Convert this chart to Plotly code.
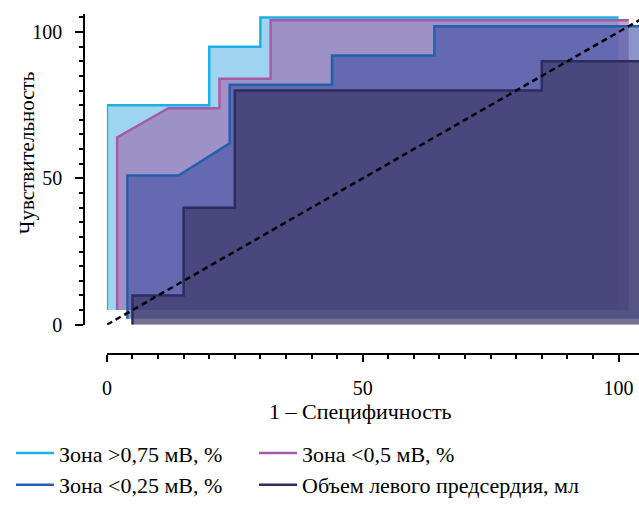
import plotly.graph_objects as go

# ---- data ----
series_names = ["Зона >0,75 мВ, %", "Зона <0,5 мВ, %",
                "Зона <0,25 мВ, %", "Объем левого предсердия, мл"]

fpr_s1 = [0, 0, 20, 20, 30, 30, 100]
sens_s1 = [5, 75, 75, 95, 95, 105, 105]
base_s1 = 5

fpr_s2 = [2, 2, 12, 22, 22, 32, 32, 102]
sens_s2 = [5, 64, 74, 74, 84, 84, 104, 104]
base_s2 = 5

fpr_s3 = [4, 4, 14, 24, 24, 44, 44, 64, 64, 106]
sens_s3 = [2, 51, 51, 62, 82, 82, 92, 92, 102, 102]
base_s3 = 2

fpr_s4 = [5, 5, 15, 15, 25, 25, 85, 85, 106]
sens_s4 = [0, 10, 10, 40, 40, 80, 80, 90, 90]
base_s4 = 0

ref_x = [0, 106]
ref_y = [0, 106]

x_tickvals = [0, 50, 100]
y_tickvals = [0, 50, 100]

x_title = "1 – Специфичность"
y_title = "Чувствительность"

# ---- styles ----
line_colors = ["#1cb0e3", "#a65ba8", "#2160ae", "#2c2c5e"]
fill_colors = ["rgba(100,185,230,0.62)", "rgba(159,100,168,0.6)",
               "rgba(64,78,163,0.6)", "rgba(62,58,105,0.72)"]
FONT = "Liberation Serif"
W, H = 639, 506

fig = go.Figure()

all_series = [(fpr_s1, sens_s1, base_s1), (fpr_s2, sens_s2, base_s2),
              (fpr_s3, sens_s3, base_s3), (fpr_s4, sens_s4, base_s4)]
legend_ids = ["legend", "legend2", "legend3", "legend4"]

for i, (xs, ys, base) in enumerate(all_series):
    fig.add_trace(go.Scatter(
        x=xs + [xs[-1]], y=ys + [base], mode="lines", fill="toself",
        fillcolor=fill_colors[i], line=dict(width=0), hoverinfo="skip",
        showlegend=False))
    fig.add_trace(go.Scatter(
        x=xs, y=ys, mode="lines", name=series_names[i],
        line=dict(color=line_colors[i], width=2.5),
        legend=legend_ids[i]))

fig.add_trace(go.Scatter(x=ref_x, y=ref_y, mode="lines", showlegend=False,
                         line=dict(color="black", width=2.5, dash="6px,4px")))

axis_common = dict(showline=True, linecolor="black", linewidth=2,
                   ticks="outside", tickcolor="black", tickwidth=2,
                   showgrid=False, zeroline=False,
                   tickfont=dict(family=FONT, size=20, color="black"))


def leg(xpx, ypx):
    return dict(orientation="v", x=xpx / W, xanchor="left", y=1 - ypx / H,
                yanchor="middle", itemwidth=38,
                font=dict(family=FONT, size=22, color="black"),
                bgcolor="rgba(0,0,0,0)", itemclick=False,
                itemdoubleclick=False)


fig.update_layout(
    width=W, height=H,
    margin=dict(l=0, r=0, t=0, b=0),
    paper_bgcolor="white", plot_bgcolor="white",
    font=dict(family=FONT, size=20, color="black"),
    xaxis=dict(domain=[102.7 / W, 1.0], range=[0, 104], anchor="free",
               position=1 - 367 / H, tickvals=x_tickvals, ticklen=7,
               ticklabelstandoff=9,
               minor=dict(dtick=5, tick0=0, ticks="outside", ticklen=4,
                          tickwidth=2, tickcolor="black"),
               **axis_common),
    yaxis=dict(domain=[1 - 336.7 / H, 1 - 15 / H], range=[0, 106],
               anchor="free", position=80 / W, tickvals=y_tickvals,
               ticklen=8, ticklabelstandoff=9,
               minor=dict(dtick=5, tick0=0, ticks="outside", ticklen=4,
                          tickwidth=2, tickcolor="black"),
               **axis_common),
    legend=leg(6, 470),
    legend2=leg(251, 470),
    legend3=leg(6, 503),
    legend4=leg(251, 503),
    annotations=[
        dict(text=x_title, x=358 / W, y=1 - 427 / H, xref="paper",
             yref="paper", showarrow=False, xanchor="center",
             yanchor="middle", font=dict(family=FONT, size=22)),
        dict(text=y_title, x=23 / W, y=1 - 159 / H, xref="paper",
             yref="paper", showarrow=False, xanchor="center",
             yanchor="middle", textangle=-90, font=dict(family=FONT, size=21)),
    ],
)

fig.write_html(
    "out.html",
    config={"displayModeBar": False, "staticPlot": True},
    post_script=("document.body.style.margin='0';"
                 "document.body.style.overflow='hidden';"
                 "document.documentElement.style.overflow='hidden';"))
